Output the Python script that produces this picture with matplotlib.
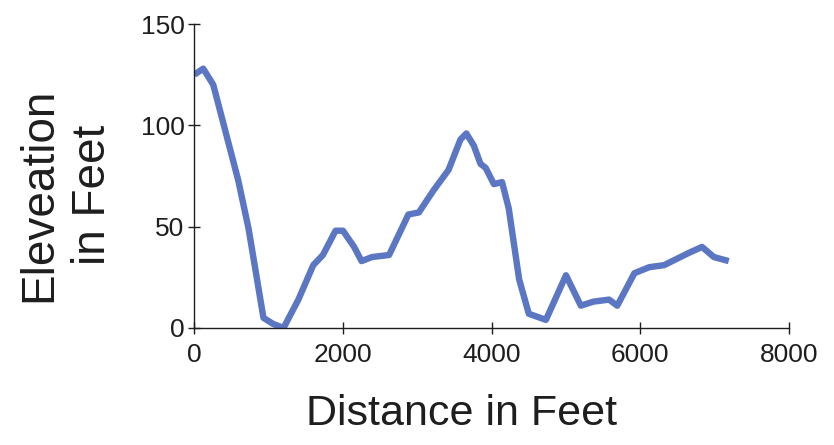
import numpy as np
import matplotlib
matplotlib.use("Agg")
import matplotlib.pyplot as plt

# elevation profile
distance_ft = [0, 120, 255, 590, 730, 930, 1060, 1200, 1400, 1600, 1730, 1900, 2000,
               2150, 2250, 2390, 2620, 2880, 3020, 3220, 3420, 3580, 3660, 3760, 3850,
               3920, 4030, 4140, 4230, 4370, 4500, 4730, 5000, 5200, 5370, 5580, 5690,
               5920, 6120, 6320, 6650, 6830, 6990, 7190]
elevation_ft = [125, 128, 120, 73, 49, 5, 2, 0, 14, 31, 36, 48, 48,
                40, 33, 35, 36, 56, 57, 68, 78, 93, 96, 90, 81,
                79, 71, 72, 59, 24, 7, 4, 26, 11, 13, 14, 11,
                27, 30, 31, 37, 40, 35, 33]

x_ticks = [0, 2000, 4000, 6000, 8000]
y_ticks = [0, 50, 100, 150]

plt.rcParams['font.family'] = ['Liberation Sans', 'DejaVu Sans']
ink = "#1e1e1e"

fig = plt.figure(figsize=(8.34, 4.45), dpi=100)
ax = fig.add_axes([0.233, 0.263, 0.713, 0.683])

ax.plot(distance_ft, elevation_ft, "-", color="#5b76c2", linewidth=4.6,
        solid_joinstyle="round", solid_capstyle="butt")

ax.set_xlim(0, 8000)
ax.set_ylim(0, 150)
ax.set_xticks(x_ticks)
ax.set_yticks(y_ticks)

for side in ["top", "right"]:
    ax.spines[side].set_visible(False)
for side in ["left", "bottom"]:
    ax.spines[side].set_color(ink)
    ax.spines[side].set_linewidth(1.0)

ax.tick_params(axis="x", direction="inout", length=8, width=1.0, colors=ink,
               labelsize=19, pad=7)
ax.tick_params(axis="y", direction="inout", length=8, width=1.0, colors=ink,
               labelsize=19, pad=3)

# axis titles placed by hand, as in the scan
fig.text(0.554, 0.045, "Distance in Feet", fontsize=31, color=ink,
         ha="center", va="baseline")
fig.text(0.079, 0.562, "Eleveation\nin Feet", rotation=90, fontsize=33, color=ink,
         ha="center", va="center", multialignment="center", linespacing=1.3)

fig.savefig("out.png", dpi=100)
